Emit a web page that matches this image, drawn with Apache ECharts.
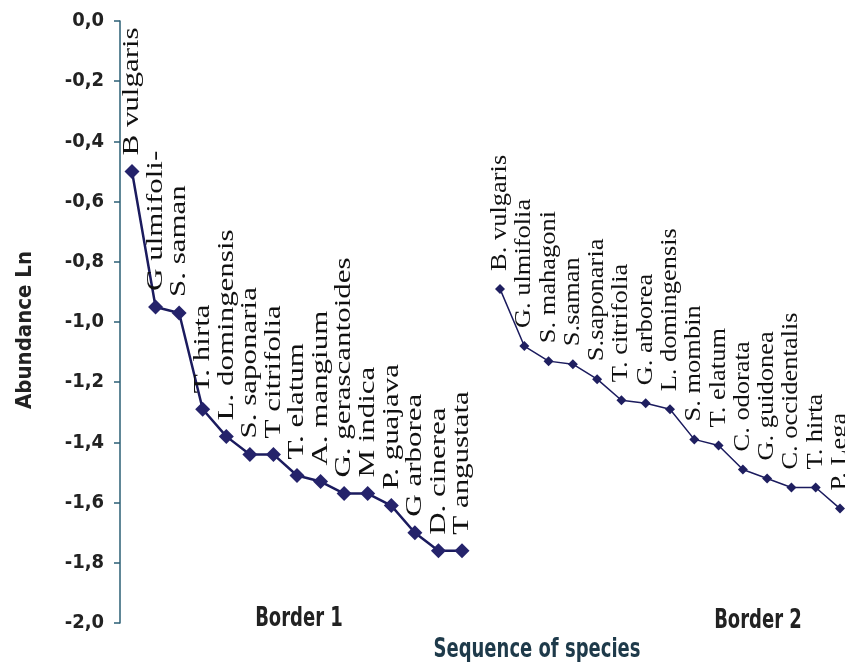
<!DOCTYPE html>
<html>
<head>
<meta charset="utf-8">
<script src="https://cdn.jsdelivr.net/npm/echarts@6/dist/echarts.min.js"></script>
<style>html,body{margin:0;padding:0;background:#fff}#c{width:845px;height:662px}</style>
</head>
<body>
<div id="c"></div>
<script>
const b1Species = ["B vulgaris","G ulmifoli-","S. saman","T. hirta","L. domingensis","S. saponaria","T citrifolia","T. elatum","A. mangium","G. gerascantoides","M indica","P. guajava","G arborea","D. cinerea","T angustata"];
const b1Values = [-0.50,-0.95,-0.97,-1.29,-1.38,-1.44,-1.44,-1.51,-1.53,-1.57,-1.57,-1.61,-1.70,-1.76,-1.76];
const b2Species = ["B. vulgaris","G. ulmifolia","S. mahagoni","S.saman","S.saponaria","T. citrifolia","G. arborea","L. domingensis","S. mombin","T. elatum","C. odorata","G. guidonea","C. occidentalis","T. hirta","P. Lega"];
const b2Values = [-0.89,-1.08,-1.13,-1.14,-1.19,-1.26,-1.27,-1.29,-1.39,-1.41,-1.49,-1.52,-1.55,-1.55,-1.62];
const yTicks = {min:-2, max:0, step:0.2};
const titles = ["Border 1","Border 2","Sequence of species"];
const yName = "Abundance Ln";

const narrow = "'Liberation Sans Narrow','Arial Narrow','DejaVu Sans Condensed',sans-serif";
const serif = "'Liberation Serif','Times New Roman',serif";
const chart = echarts.init(document.getElementById('c'), null, {renderer:'canvas'});
const hiddenX = {type:'category', boundaryGap:false, axisLine:{show:false}, axisTick:{show:false}, axisLabel:{show:false}, splitLine:{show:false}};

function labelSeries(xi, names, values, fontSize, stretch, offset) {
  return {
    type:'custom', xAxisIndex:xi, yAxisIndex:xi, silent:true, z:5,
    data: values.map((v, i) => [i, v]),
    renderItem: (params, api) => {
      const p = api.coord([api.value(0), api.value(1)]);
      return {
        type:'text', x:p[0], y:p[1] - offset, rotation:Math.PI / 2, scaleX:stretch, scaleY:1,
        style:{text:names[params.dataIndex], font:fontSize + 'px ' + serif, fill:'#111', align:'left', verticalAlign:'middle'}
      };
    }
  };
}

chart.setOption({
  backgroundColor:'#fff',
  animation:false,
  grid:[
    {left:132, top:21, width:330, height:602},
    {left:500, top:21, width:340, height:602}
  ],
  xAxis:[
    Object.assign({gridIndex:0, data:b1Species}, hiddenX),
    Object.assign({gridIndex:1, data:b2Species}, hiddenX)
  ],
  yAxis:[
    {gridIndex:0, type:'value', min:yTicks.min, max:yTicks.max, interval:yTicks.step, offset:12,
     axisLine:{show:true, lineStyle:{color:'#2b5f75', width:1.5}},
     axisTick:{show:true, inside:false, length:6, lineStyle:{color:'#2b5f75', width:1.5}},
     splitLine:{show:false},
     axisLabel:{margin:16, color:'#222', fontFamily:narrow, fontWeight:'bold', fontSize:20,
       formatter:v => v.toFixed(1).replace('.', ',')},
     name:yName, nameLocation:'middle', nameGap:84, nameRotate:90,
     nameTextStyle:{color:'#222', fontFamily:narrow, fontWeight:'bold', fontSize:22, padding:[0,16,0,0]}
    },
    {gridIndex:1, type:'value', min:yTicks.min, max:yTicks.max, interval:yTicks.step, show:false}
  ],
  graphic:[
    {type:'text', x:299, y:619, scaleY:1.35, style:{text:titles[0], align:'center', verticalAlign:'middle', font:"bold 20px "+narrow, fill:'#222'}},
    {type:'text', x:758, y:621, scaleY:1.35, style:{text:titles[1], align:'center', verticalAlign:'middle', font:"bold 20px "+narrow, fill:'#222'}},
    {type:'text', x:537, y:650, scaleY:1.35, style:{text:titles[2], align:'center', verticalAlign:'middle', font:"bold 20px "+narrow, fill:'#1e3a4a'}}
  ],
  series:[
    {type:'line', xAxisIndex:0, yAxisIndex:0, data:b1Values, symbol:'diamond', symbolSize:15, showSymbol:true, showAllSymbol:true,
     lineStyle:{color:'#1b1b5e', width:2.5}, itemStyle:{color:'#25236b'}},
    {type:'line', xAxisIndex:1, yAxisIndex:1, data:b2Values, symbol:'diamond', symbolSize:10, showSymbol:true, showAllSymbol:true,
     lineStyle:{color:'#1b1b5e', width:1.5}, itemStyle:{color:'#1f1f60'}},
    labelSeries(0, b1Species, b1Values, 24, 1.29, 16),
    labelSeries(1, b2Species, b2Values, 23, 1.15, 18)
  ]
});
</script>
</body>
</html>
